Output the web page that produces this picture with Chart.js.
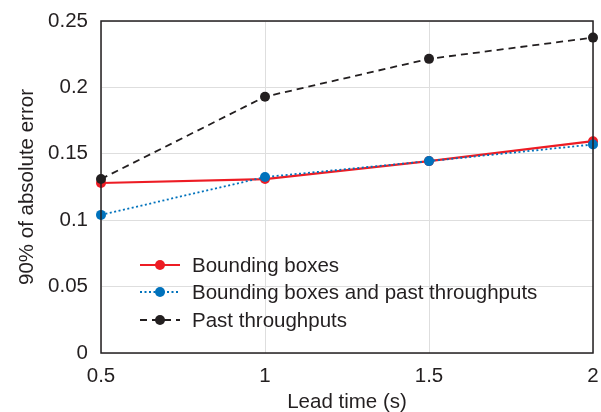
<!DOCTYPE html>
<html>
<head>
<meta charset="utf-8">
<script src="https://cdn.jsdelivr.net/npm/chart.js@4"></script>
<style>
  html, body { margin: 0; padding: 0; background: #fff; }
  #wrap { width: 601px; height: 412px; }
</style>
</head>
<body>
<div id="wrap"><canvas id="chart" width="601" height="412"></canvas></div>
<script>
// --- Data ---
const leadTimes = [0.5, 1, 1.5, 2];
const boundingBoxes = [0.128, 0.131, 0.1445, 0.1595];
const boxesAndThroughputs = [0.104, 0.1325, 0.1445, 0.157];
const pastThroughputs = [0.131, 0.193, 0.2215, 0.2375];
const yTicks = [0, 0.05, 0.1, 0.15, 0.2, 0.25];

const FONT = 'Liberation Sans, Arial, Helvetica, sans-serif';
const FSIZE = 20.5;
const TXT = '#231f20';

const toPoints = (vals) => vals.map((v, i) => ({ x: leadTimes[i], y: v }));

function noPad(axis) {
    axis.paddingLeft = 0; axis.paddingRight = 0;
    axis.paddingTop = 0; axis.paddingBottom = 0;
}

// box round the plot area
const frame = {
    id: 'frame',
    afterDatasetsDraw(chart) {
        const { ctx, chartArea: a } = chart;
        ctx.save();
        ctx.strokeStyle = '#231f20';
        ctx.lineWidth = 1.5;
        ctx.strokeRect(a.left, a.top, a.right - a.left, a.bottom - a.top);
        ctx.restore();
    }
};

// legend inside the plot, lower left
const innerLegend = {
    id: 'innerLegend',
    afterDraw(chart) {
        const { ctx } = chart;
        const x0 = 140, x1 = 180, tx = 192;
        const rows = [265, 292, 320];
        ctx.save();
        chart.data.datasets.forEach((ds, i) => {
            const y = rows[i];
            ctx.strokeStyle = ds.borderColor;
            ctx.lineWidth = ds.borderWidth;
            ctx.setLineDash(ds.borderDash || []);
            ctx.beginPath();
            ctx.moveTo(x0, y);
            ctx.lineTo(x1, y);
            ctx.stroke();
            ctx.setLineDash([]);
            ctx.fillStyle = ds.pointBackgroundColor;
            ctx.beginPath();
            ctx.arc((x0 + x1) / 2, y, ds.pointRadius, 0, Math.PI * 2);
            ctx.fill();
            ctx.fillStyle = TXT;
            ctx.font = FSIZE + 'px ' + FONT;
            ctx.textBaseline = 'middle';
            ctx.fillText(ds.label, tx, y + 1);
        });
        ctx.restore();
    }
};

new Chart(document.getElementById('chart'), {
    type: 'line',
    data: {
        datasets: [
            {
                label: 'Bounding boxes',
                data: toPoints(boundingBoxes),
                borderColor: '#ed1c24',
                backgroundColor: '#ed1c24',
                pointBackgroundColor: '#ed1c24',
                pointBorderWidth: 0,
                borderWidth: 2.2,
                pointRadius: 5,
                order: 2
            },
            {
                label: 'Bounding boxes and past throughputs',
                data: toPoints(boxesAndThroughputs),
                borderColor: '#0072bc',
                backgroundColor: '#0072bc',
                pointBackgroundColor: '#0072bc',
                pointBorderWidth: 0,
                borderWidth: 1.8,
                borderDash: [2, 2.5],
                pointRadius: 5,
                order: 1
            },
            {
                label: 'Past throughputs',
                data: toPoints(pastThroughputs),
                borderColor: '#231f20',
                backgroundColor: '#231f20',
                pointBackgroundColor: '#231f20',
                pointBorderWidth: 0,
                borderWidth: 1.8,
                borderDash: [7, 5],
                pointRadius: 5,
                order: 0
            }
        ]
    },
    options: {
        responsive: false,
        animation: false,
        clip: false,
        layout: { padding: { left: 0, right: 8, top: 21, bottom: 0 } },
        plugins: {
            legend: { display: false },
            tooltip: { enabled: false }
        },
        scales: {
            x: {
                type: 'linear',
                min: 0.5,
                max: 2,
                afterBuildTicks: (axis) => { axis.ticks = leadTimes.map(v => ({ value: v })); },
                afterFit: (axis) => { axis.height = 59; noPad(axis); },
                grid: { color: '#dedede', lineWidth: 1, drawTicks: false },
                border: { display: false },
                ticks: {
                    color: TXT,
                    font: { family: FONT, size: FSIZE },
                    padding: 11,
                    maxRotation: 0,
                    callback: (v) => String(v)
                },
                title: {
                    display: true,
                    text: 'Lead time (s)',
                    color: TXT,
                    font: { family: FONT, size: FSIZE },
                    padding: { top: 0, bottom: -3 }
                }
            },
            y: {
                min: 0,
                max: 0.25,
                afterBuildTicks: (axis) => { axis.ticks = yTicks.map(v => ({ value: v })); },
                afterFit: (axis) => { axis.width = 101; noPad(axis); },
                grid: { color: '#dedede', lineWidth: 1, drawTicks: false },
                border: { display: false },
                ticks: {
                    color: TXT,
                    font: { family: FONT, size: FSIZE },
                    padding: 13,
                    callback: (v) => String(+v.toFixed(2))
                },
                title: {
                    display: true,
                    text: '90% of absolute error',
                    color: TXT,
                    font: { family: FONT, size: FSIZE },
                    padding: { top: 15, bottom: 0 }
                }
            }
        }
    },
    plugins: [frame, innerLegend]
});
</script>
</body>
</html>
